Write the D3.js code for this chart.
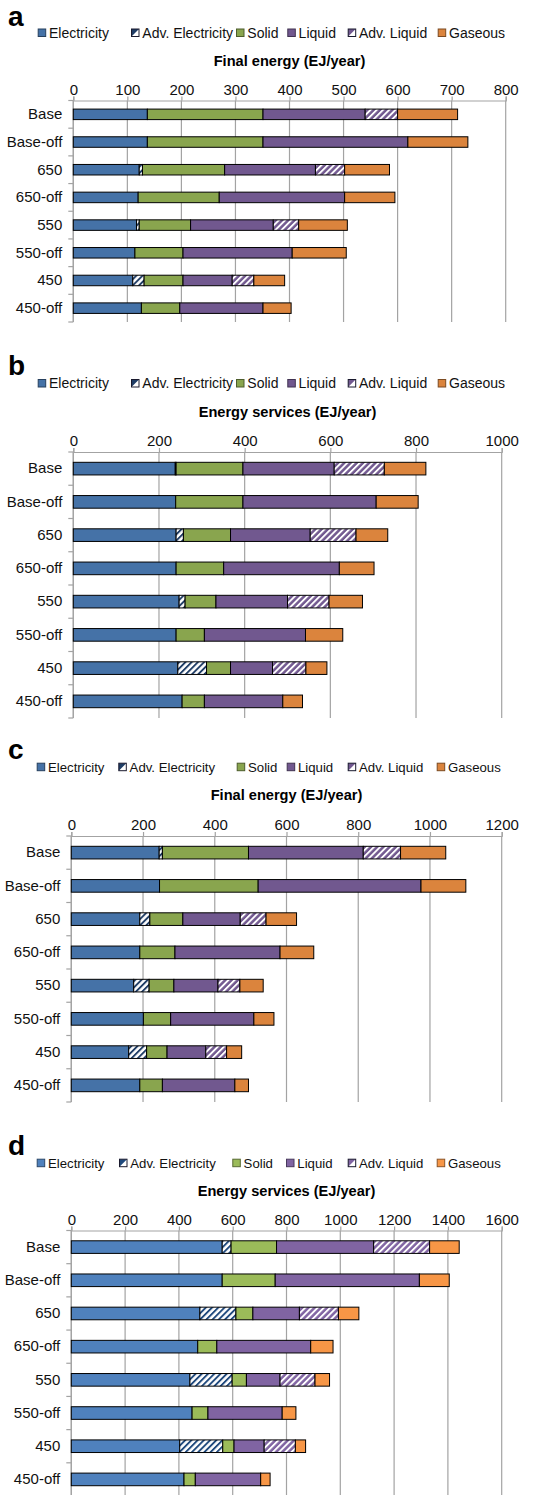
<!DOCTYPE html>
<html>
<head>
<meta charset="utf-8">
<script src="https://cdn.jsdelivr.net/npm/d3@7"></script>
<style>
  body { margin: 0; background: #fff; }
  svg { display: block; font-family: "Liberation Sans", Arial, Helvetica, sans-serif; }
</style>
</head>
<body>
<svg id="chart" width="548" height="1495"></svg>
<script>
// ---- Data -----------------------------------------------------------------
const categories = ["Base", "Base-off", "650", "650-off", "550", "550-off", "450", "450-off"];
const seriesKeys = ["Electricity", "Adv. Electricity", "Solid", "Liquid", "Adv. Liquid", "Gaseous"];

// Panel a: final energy (EJ/year)
const aElectricity    = [137, 137, 122, 120, 117, 114, 110, 126];
const aAdvElectricity = [0, 0, 6, 0, 5, 0, 21, 0];
const aSolid          = [214, 214, 152, 150, 95, 89, 72, 71];
const aLiquid         = [189, 268, 168, 232, 153, 202, 91, 154];
const aAdvLiquid      = [60, 0, 54, 0, 47, 0, 40, 0];
const aGaseous        = [111, 111, 83, 93, 90, 100, 57, 52];
const aTicks = [0, 100, 200, 300, 400, 500, 600, 700, 800];

// Panel b: energy services (EJ/year)
const bElectricity    = [238, 239, 240, 240, 247, 240, 244, 254];
const bAdvElectricity = [2, 0, 17, 0, 14, 0, 67, 0];
const bSolid          = [156, 157, 110, 111, 72, 66, 56, 52];
const bLiquid         = [213, 311, 186, 270, 167, 236, 98, 183];
const bAdvLiquid      = [117, 0, 107, 0, 97, 0, 78, 0];
const bGaseous        = [97, 98, 74, 81, 78, 87, 49, 46];
const bTicks = [0, 200, 400, 600, 800, 1000];

// Panel c: final energy (EJ/year)
const cElectricity    = [245, 246, 191, 191, 174, 201, 160, 191];
const cAdvElectricity = [9, 0, 28, 0, 43, 0, 50, 0];
const cSolid          = [240, 275, 92, 98, 69, 76, 57, 63];
const cLiquid         = [320, 454, 160, 293, 123, 232, 108, 202];
const cAdvLiquid      = [104, 0, 72, 0, 61, 0, 58, 0];
const cGaseous        = [126, 125, 85, 94, 65, 56, 42, 38];
const cTicks = [0, 200, 400, 600, 800, 1000, 1200];

// Panel d: energy services (EJ/year)
const dElectricity    = [561, 561, 478, 470, 441, 449, 403, 419];
const dAdvElectricity = [33, 0, 134, 0, 157, 0, 160, 0];
const dSolid          = [169, 197, 63, 71, 53, 59, 42, 42];
const dLiquid         = [361, 536, 173, 349, 125, 276, 112, 243];
const dAdvLiquid      = [208, 0, 145, 0, 130, 0, 116, 0];
const dGaseous        = [110, 111, 76, 83, 54, 51, 38, 35];
const dTicks = [0, 200, 400, 600, 800, 1000, 1200, 1400, 1600];

// ---- Colour schemes ------------------------------------------------------
const schemes = {
  classic: { Electricity: "#4572a7", Solid: "#89a54e", Liquid: "#71588f", Gaseous: "#db843d", stripe: "#1f3d66" },
  bright:  { Electricity: "#4f81bd", Solid: "#9bbb59", Liquid: "#8064a2", Gaseous: "#f79646", stripe: "#1f497d" }
};

// ---- Panel layout --------------------------------------------------------
const panels = [
  { letter: "a", title: "Final energy (EJ/year)", ticks: aTicks, scheme: "classic",
    values: [aElectricity, aAdvElectricity, aSolid, aLiquid, aAdvLiquid, aGaseous],
    letterY: 26, legendY: 37.5, legendFont: 14, titleY: 66, axisY: 100.5, bottom: 322,
    x0: 73.3, x1: 505.7, legendX: [37.7, 131, 236, 287.3, 347.7, 437.7] },
  { letter: "b", title: "Energy services (EJ/year)", ticks: bTicks, scheme: "classic",
    values: [bElectricity, bAdvElectricity, bSolid, bLiquid, bAdvLiquid, bGaseous],
    letterY: 375, legendY: 388, legendFont: 14, titleY: 416.7, axisY: 452, bottom: 718,
    x0: 73.3, x1: 501.7, legendX: [37.7, 131, 236, 287.3, 347.7, 437.7] },
  { letter: "c", title: "Final energy (EJ/year)", ticks: cTicks, scheme: "classic",
    values: [cElectricity, cAdvElectricity, cSolid, cLiquid, cAdvLiquid, cGaseous],
    letterY: 759, legendY: 771.7, legendFont: 13.2, titleY: 800, axisY: 836, bottom: 1102,
    x0: 71.3, x1: 501.7, legendX: [36.7, 118.3, 236.7, 286.7, 347.7, 436.7] },
  { letter: "d", title: "Energy services (EJ/year)", ticks: dTicks, scheme: "bright",
    values: [dElectricity, dAdvElectricity, dSolid, dLiquid, dAdvLiquid, dGaseous],
    letterY: 1155, legendY: 1167.7, legendFont: 13.2, titleY: 1196, axisY: 1230.5, bottom: 1496,
    x0: 71.3, x1: 501.7, legendX: [36.7, 119, 232.3, 286, 347.7, 436.7] }
];

const svg = d3.select("#chart");
svg.append("rect").attr("width", 548).attr("height", 1495).attr("fill", "#fff");
const defs = svg.append("defs");

// Diagonal stripe fills for the "Adv." series
function stripePattern(id, bg, fg) {
  const s = 4.4;
  const p = defs.append("pattern")
    .attr("id", id)
    .attr("patternUnits", "userSpaceOnUse")
    .attr("width", s).attr("height", s)
    .attr("patternTransform", "rotate(45)");
  p.append("rect").attr("width", s).attr("height", s).attr("fill", bg);
  p.append("rect").attr("width", 1.9).attr("height", s).attr("fill", fg);
}
Object.entries(schemes).forEach(([name, sc]) => {
  stripePattern(`advElec-${name}`, "#ffffff", sc.stripe);
  stripePattern(`advLiq-${name}`, sc.Liquid, "#ffffff");
});

function fillFor(key, schemeName) {
  const sc = schemes[schemeName];
  if (key === "Adv. Electricity") return `url(#advElec-${schemeName})`;
  if (key === "Adv. Liquid") return `url(#advLiq-${schemeName})`;
  return sc[key];
}

const gridColor = "#a3a3a3";

panels.forEach(p => {
  const sc = schemes[p.scheme];
  const g = svg.append("g");

  // Panel letter
  g.append("text")
    .attr("x", 8).attr("y", p.letterY)
    .attr("font-size", 28).attr("font-weight", "bold").attr("fill", "#000")
    .text(p.letter);

  // Legend
  const leg = g.selectAll("g.legend-item").data(seriesKeys).join("g")
    .attr("class", "legend-item")
    .attr("transform", (d, i) => `translate(${p.legendX[i]},${p.legendY})`);
  leg.each(function (key) {
    const item = d3.select(this);
    if (key === "Adv. Electricity" || key === "Adv. Liquid") {
      const col = key === "Adv. Electricity" ? sc.stripe : sc.Liquid;
      item.append("rect").attr("x", 0.5).attr("y", -8.5).attr("width", 7.5).attr("height", 7.5)
        .attr("fill", "#fff");
      item.append("path").attr("d", "M0.5,-1 L0.5,-8.5 L8,-8.5 Z").attr("fill", col);
      item.append("rect").attr("x", 0.5).attr("y", -8.5).attr("width", 7.5).attr("height", 7.5)
        .attr("fill", "none").attr("stroke", "#1a1a2e").attr("stroke-width", 1);
    } else {
      item.append("rect").attr("x", 0.5).attr("y", -8.5).attr("width", 7.5).attr("height", 7.5)
        .attr("fill", sc[key])
        .attr("stroke", d3.color(sc[key]).darker(1.6)).attr("stroke-width", 1);
    }
    item.append("text").attr("x", 11.3).attr("y", 0)
      .attr("font-size", p.legendFont).attr("fill", "#111")
      .text(key);
  });

  // Scales
  const x = d3.scaleLinear()
    .domain([p.ticks[0], p.ticks[p.ticks.length - 1]])
    .range([p.x0, p.x1]);
  const y = d3.scaleBand()
    .domain(categories)
    .range([p.axisY, p.bottom])
    .paddingInner(0.62)
    .paddingOuter(0.31);

  // Axis title
  g.append("text")
    .attr("x", (p.x0 + p.x1) / 2).attr("y", p.titleY)
    .attr("text-anchor", "middle")
    .attr("font-size", 14.6).attr("font-weight", "bold").attr("fill", "#000")
    .text(p.title);

  // Vertical gridlines
  g.append("g").selectAll("line").data(p.ticks).join("line")
    .attr("x1", d => x(d)).attr("x2", d => x(d))
    .attr("y1", p.axisY).attr("y2", p.bottom)
    .attr("stroke", gridColor).attr("stroke-width", 1.2);

  // Top value axis
  const xAxis = g.append("g")
    .attr("transform", `translate(0,${p.axisY})`)
    .call(d3.axisTop(x).tickValues(p.ticks).tickFormat(d3.format("d"))
      .tickSize(4).tickSizeOuter(4).tickPadding(2));
  xAxis.selectAll("path, line").attr("stroke", gridColor).attr("stroke-width", 1.2);
  xAxis.selectAll("text").attr("font-size", 15).attr("fill", "#111")
    .attr("font-family", "\"Liberation Sans\", Arial, Helvetica, sans-serif");

  // Left category axis: labels at band centres, ticks at band boundaries
  const yAxis = g.append("g")
    .attr("transform", `translate(${p.x0},0)`)
    .call(d3.axisLeft(y).tickSize(0).tickPadding(11));
  yAxis.select("path").remove();
  yAxis.selectAll("text").attr("font-size", 15).attr("fill", "#111")
    .attr("font-family", "\"Liberation Sans\", Arial, Helvetica, sans-serif");
  g.append("line")
    .attr("x1", p.x0).attr("x2", p.x0).attr("y1", p.axisY).attr("y2", p.bottom)
    .attr("stroke", gridColor).attr("stroke-width", 1.2);
  const boundaries = categories.map(c => y(c) - y.step() * y.paddingInner() / 2)
    .concat([p.bottom]);
  g.append("g").selectAll("line").data(boundaries).join("line")
    .attr("x1", p.x0 - 5).attr("x2", p.x0)
    .attr("y1", d => d).attr("y2", d => d)
    .attr("stroke", gridColor).attr("stroke-width", 1.2);

  // Stacked bars
  const rows = categories.map((c, i) => {
    const r = { category: c };
    seriesKeys.forEach((k, j) => { r[k] = p.values[j][i]; });
    return r;
  });
  const layers = d3.stack().keys(seriesKeys)(rows);
  g.append("g").selectAll("g").data(layers).join("g")
    .attr("fill", d => fillFor(d.key, p.scheme))
    .selectAll("rect")
    .data(d => d.filter(s => s[1] - s[0] > 0))
    .join("rect")
    .attr("x", d => x(d[0]))
    .attr("width", d => x(d[1]) - x(d[0]))
    .attr("y", d => y(d.data.category))
    .attr("height", y.bandwidth())
    .attr("stroke", "#000")
    .attr("stroke-width", 1);
});
</script>
</body>
</html>
